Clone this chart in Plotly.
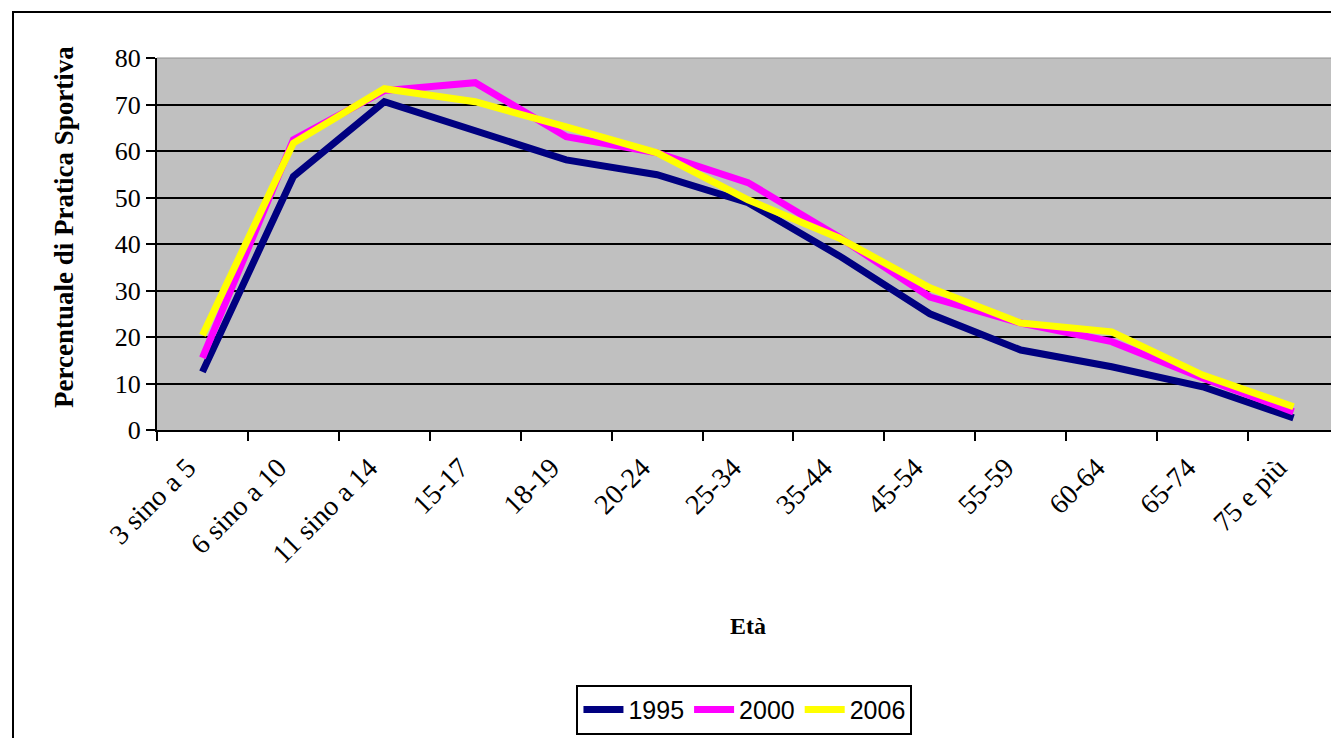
import plotly.graph_objects as go

categories = ["3 sino a 5", "6 sino a 10", "11 sino a 14", "15-17", "18-19", "20-24",
              "25-34", "35-44", "45-54", "55-59", "60-64", "65-74", "75 e più"]
y1995 = [12.5, 54.5, 70.6, 64.5, 58.1, 54.9, 48.9, 37.5, 25.0, 17.2, 13.6, 9.3, 2.6]
y2000 = [15.5, 62.4, 73.0, 74.7, 63.1, 59.6, 53.2, 41.5, 28.6, 23.0, 19.0, 11.2, 3.9]
y2006 = [20.4, 61.7, 73.4, 70.6, 65.2, 59.6, 49.5, 41.3, 30.6, 23.0, 21.1, 11.8, 5.0]
y_ticks = [0, 10, 20, 30, 40, 50, 60, 70, 80]

series = [("1995", y1995, "#000080"), ("2000", y2000, "#FF00FF"), ("2006", y2006, "#FFFF00")]

fig = go.Figure()
for name, vals, col in series:
    fig.add_trace(go.Scatter(x=categories, y=vals, name=name, mode="lines",
                             line=dict(color=col, width=7)))

serif = "Liberation Serif"
# page body has an 8px margin, so the figure is made 8px smaller
W, H = 1331, 730
L, R, T, B = 149, 0, 50, 308
pw = W - L - R
ph = H - T - B

fig.update_layout(
    width=W, height=H,
    margin=dict(l=L, r=R, t=T, b=B, pad=0),
    paper_bgcolor="white",
    plot_bgcolor="#C0C0C0",
    font=dict(family=serif, color="black", size=24),
    showlegend=True,
    legend=dict(orientation="h", x=0.497, xanchor="center", y=-0.685, yanchor="top",
                bordercolor="black", borderwidth=2, bgcolor="white",
                font=dict(family="Liberation Sans", size=25, color="black"),
                itemwidth=40, tracegroupgap=0),
)

fig.update_xaxes(
    type="category", categoryorder="array", categoryarray=categories,
    range=[-0.5, len(categories) - 0.5],
    tickson="boundaries", ticks="outside", ticklen=9, tickwidth=2, tickcolor="black",
    tickangle=-45, tickfont=dict(family=serif, size=28, color="black"),
    ticklabelshift=-15, ticklabelstandoff=8,
    showline=True, linecolor="black", linewidth=2,
    showgrid=False, zeroline=False,
    title=dict(text="<b>Età</b>", font=dict(family=serif, size=24, color="black"), standoff=49),
)
fig.update_yaxes(
    range=[0, 80], tickvals=y_ticks,
    ticks="outside", ticklen=9, tickwidth=2, tickcolor="black",
    tickfont=dict(family=serif, size=26, color="black"),
    showline=True, linecolor="black", linewidth=2,
    showgrid=True, gridcolor="black", gridwidth=2, zeroline=False,
    title=dict(text="&nbsp;&nbsp;&nbsp;&nbsp;&nbsp;<b>Percentuale di Pratica Sportiva</b>",
               font=dict(family=serif, size=27, color="black"), standoff=33),
)

# outer frame of the figure (decoration), in screen pixels converted to paper units
def px_x(sx):
    return (sx - 8 - L) / pw

def px_y(sy):
    return (H - B - (sy - 8)) / ph

fig.add_shape(type="rect", xref="paper", yref="paper",
              x0=px_x(13), x1=px_x(1350), y0=px_y(750), y1=px_y(12),
              line=dict(color="black", width=2), fillcolor="rgba(0,0,0,0)", layer="below")
# thin grey top edge of plot area
fig.add_shape(type="line", xref="paper", yref="paper", x0=0, x1=1, y0=1, y1=1,
              line=dict(color="#909090", width=1))

fig.write_html("out.html")
